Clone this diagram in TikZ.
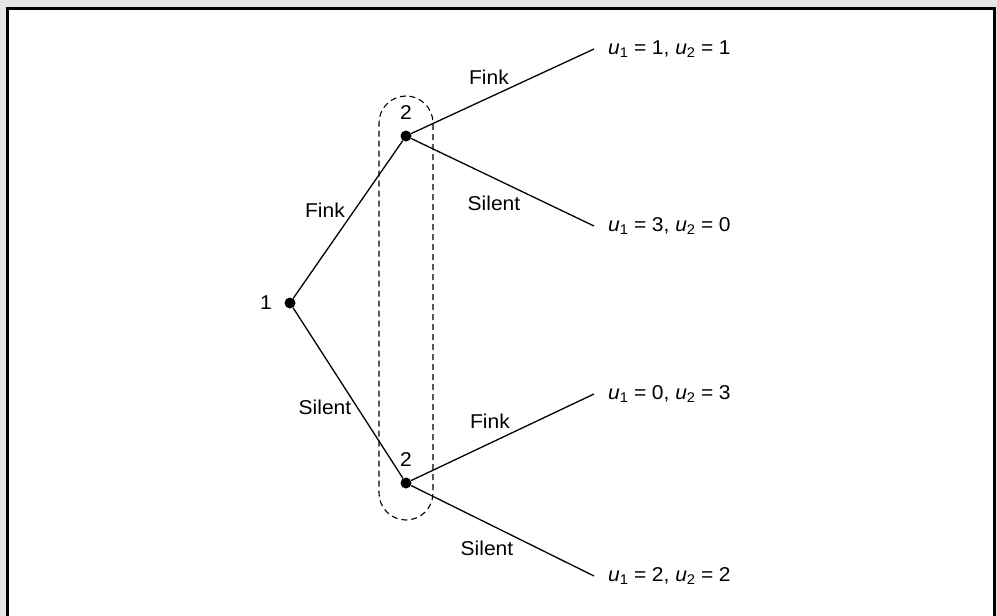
\documentclass[tikz,border=0pt]{standalone}
\usepackage{amsmath}
\usepackage{fontspec}
\setmainfont{Liberation Sans}[FakeStretch=1.05]
\usepackage{tikz}
\usetikzlibrary{positioning}
\definecolor{page}{RGB}{229,229,229}
\newcommand{\pay}[2]{\textit{u}$_{\text{1}}$\;=\;#1, \textit{u}$_{\text{2}}$\;=\;#2}

\begin{document}
\begin{tikzpicture}[x=1pt,y=-1pt,
every node/.style={font=\fontsize{20}{23}\selectfont},
dot/.style={circle,fill=black,inner sep=0pt,minimum size=11pt},
edge/.style={line width=1.3pt},
leaf/.style={anchor=west,inner xsep=14pt}]
\useasboundingbox (0,0) rectangle (997,616);
\fill[page] (0,0) rectangle (997,616);
\clip (0,0) rectangle (997,616);
\draw[line width=3pt,fill=white] (7.5,8.5) rectangle (994,640);
% information set of player 2
\node[draw,dashed,dash pattern=on 6pt off 4pt,line width=1.1pt,rounded corners=27pt,
minimum width=54pt,minimum height=424pt] (info) at (406,308) {};
% decision nodes
\node[dot] (p1) at (290,303) {};
\node[dot] (p2a) at (406,136) {};
\node[dot] (p2b) at (406,483) {};
\node[left=9pt of p1] (t1) {1};
\node[above=7pt of p2a] (t2a) {2};
\node[above=7pt of p2b] (t2b) {2};
% outcomes
\node[leaf] (ff) at (594,49) {\pay{1}{1}};
\node[leaf] (fs) at (594,226) {\pay{3}{0}};
\node[leaf] (sf) at (594,394) {\pay{0}{3}};
\node[leaf] (ss) at (594,576) {\pay{2}{2}};
\draw[edge] (p1)--(p2a);
\draw[edge] (p1)--(p2b);
\draw[edge] (p2a)--(ff.west);
\draw[edge] (p2a)--(fs.west);
\draw[edge] (p2b)--(sf.west);
\draw[edge] (p2b)--(ss.west);
% action labels
\node (a1) at (325,210) {Fink};
\node (a2) at (325,407) {Silent};
\node (a3) at (489,77) {Fink};
\node (a4) at (494,203) {Silent};
\node (a5) at (490,421) {Fink};
\node (a6) at (487,548) {Silent};
\end{tikzpicture}
\end{document}
